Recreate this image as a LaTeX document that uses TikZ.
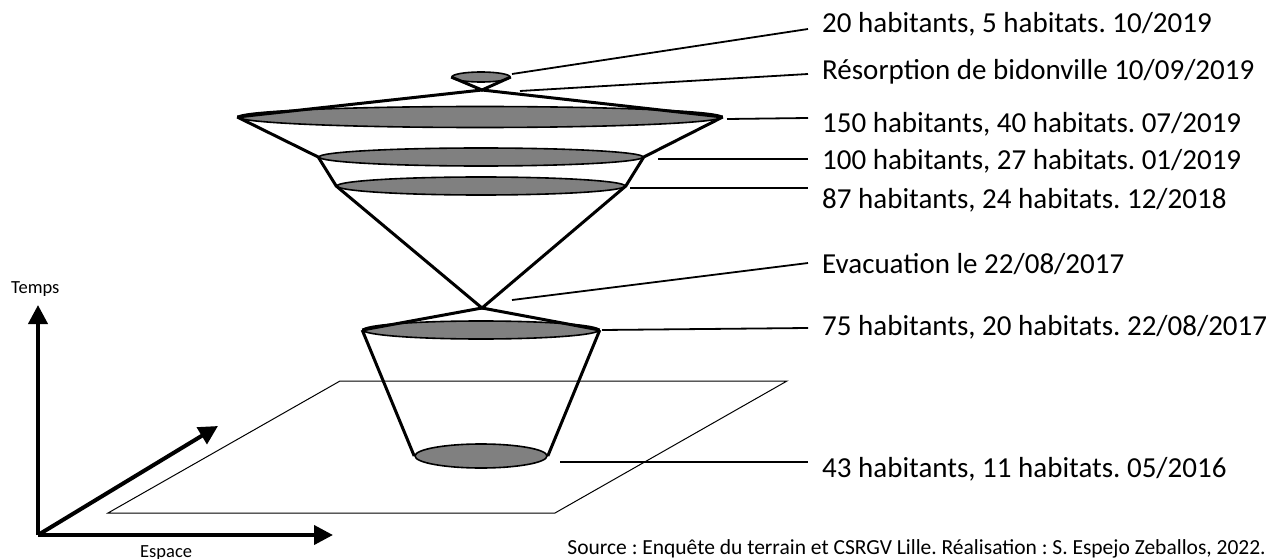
\documentclass[tikz,border=0pt]{standalone}
\usepackage{fontspec}
\setmainfont{Carlito}
\usetikzlibrary{arrows.meta,shapes.geometric}
\definecolor{discgray}{RGB}{128,128,128}
\frenchspacing
\begin{document}
\begin{tikzpicture}[x=1pt,y=-1pt,
  disc/.style={ellipse, draw=black, line width=1.6pt, fill=discgray, inner sep=0pt},
  cone/.style={line width=3pt, line join=miter},
  leader/.style={line width=1.8pt},
  lbl/.style={anchor=base west, inner sep=0pt, font=\fontsize{29}{34}\selectfont},
  axis/.style={line width=4pt, -{Triangle[length=19pt,width=19pt]}},
  plane/.style={line width=1pt}
]
\useasboundingbox (0,0) rectangle (1270,559);

% ground plane
\draw[plane] (108,513) -- (340,381) -- (787,381) -- (555,513) -- cycle;

% discs
\node[disc, minimum width=58pt, minimum height=10pt] (e1) at (481,77) {};
\node[disc, minimum width=484pt, minimum height=21pt] (e2) at (480,117) {};
\node[disc, minimum width=324pt, minimum height=18pt] (e3) at (481,157) {};
\node[disc, minimum width=288pt, minimum height=18pt] (e4) at (481,186) {};
\node[disc, minimum width=236pt, minimum height=18pt] (e5) at (481,330) {};
\node[disc, minimum width=132pt, minimum height=24pt] (e6) at (481,456) {};

\coordinate (x1) at (482,90);
\coordinate (x2) at (482,308);

% cone outlines
\draw[cone] (e1.west) -- (x1) -- (e1.east);
\draw[cone] (e2.west) -- (x1) -- (e2.east);
\draw[cone] (e2.west) -- (e3.west) -- (e4.west) -- (x2) -- (e4.east) -- (e3.east) -- (e2.east);
\draw[cone] (e5.west) -- (x2) -- (e5.east);
\draw[cone] (e5.west) -- (e6.west);
\draw[cone] (e5.east) -- (e6.east);

% axes
\coordinate (o) at (38,535);
\coordinate (ty) at (38,305);
\coordinate (tx) at (333,535);
\coordinate (tz) at (218,426);
\draw[axis] (o) -- (ty);
\draw[axis] (o) -- (tx);
\draw[axis] (o) -- (tz);
\node[anchor=base west, inner sep=0pt, font=\fontsize{18.5}{21}\selectfont] (temps) at (11,293) {Temps};
\node[anchor=base west, inner sep=0pt, font=\fontsize{18.5}{21}\selectfont] (espace) at (140,557) {Espace};

% labels
\node[lbl] (l1) at (822,33) {20 habitants, 5 habitats. 10/2019};
\node[lbl] (l2) at (822,80) {Résorption de bidonville 10/09/2019};
\node[lbl] (l3) at (822,133) {150 habitants, 40 habitats. 07/2019};
\node[lbl] (l4) at (822,170) {100 habitants, 27 habitats. 01/2019};
\node[lbl] (l5) at (822,208) {87 habitants, 24 habitats. 12/2018};
\node[lbl] (l6) at (822,273) {Evacuation le 22/08/2017};
\node[lbl] (l7) at (822,335) {75 habitants, 20 habitats. 22/08/2017};
\node[lbl] (l8) at (822,477) {43 habitants, 11 habitats. 05/2016};

% leader lines
\coordinate (s1) at (512,74);  \coordinate (q1) at (808,29);
\coordinate (s2) at (520,91);  \coordinate (q2) at (808,74);
\coordinate (s3) at (727,119); \coordinate (q3) at (808,118);
\coordinate (s4) at (658,159); \coordinate (q4) at (808,159);
\coordinate (s5) at (630,188); \coordinate (q5) at (808,188);
\coordinate (s6) at (512,300); \coordinate (q6) at (808,263);
\coordinate (s7) at (602,330); \coordinate (q7) at (808,328);
\coordinate (s8) at (560,462); \coordinate (q8) at (808,462);
\foreach \i in {1,...,8} { \draw[leader] (s\i) -- (q\i); }

\node[anchor=base east, inner sep=0pt, font=\fontsize{21.5}{25}\selectfont] (src) at (1266,554)
  {Source : Enquête du terrain et CSRGV Lille. Réalisation : S. Espejo Zeballos, 2022.};
\end{tikzpicture}
\end{document}
